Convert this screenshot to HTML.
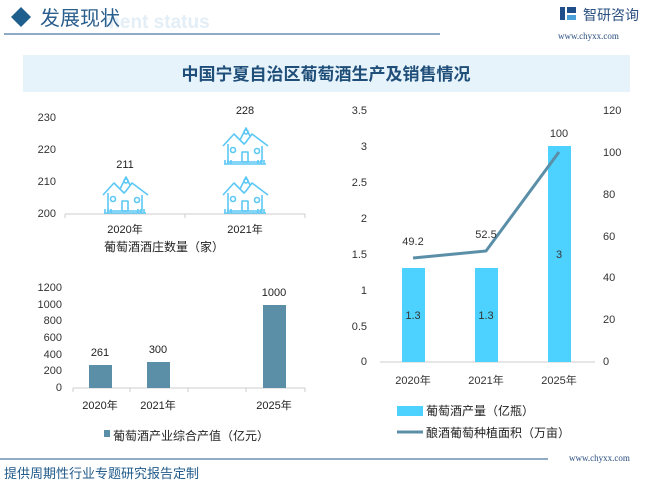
<!DOCTYPE html>
<html><head><meta charset="utf-8"><style>
body{margin:0;background:#fff;}
svg{display:block;font-family:"Liberation Sans","Noto Sans CJK SC",sans-serif;}
</style></head><body>
<svg width="650" height="485" viewBox="0 0 650 485" xmlns="http://www.w3.org/2000/svg">
<defs>
<g id="h" fill="none" stroke="#5cc8f5" stroke-width="1.6" stroke-linejoin="round">
<path d="M2 40 L44 40"/>
<path d="M3 40 v-4 M6 40 v-4 M9 40 v-4 M36 40 v-4 M39 40 v-4 M42 40 v-4"/>
<path d="M1 22 L12 10 L22 20 L24 18 L30 10 L46 22"/>
<path d="M6 20 V38 H40 V22"/>
<path d="M18 16 L24 4 L28 12"/>
<circle cx="24" cy="8" r="2"/>
<rect x="20" y="28" width="6" height="10"/>
<circle cx="11" cy="26" r="2.5"/><circle cx="35" cy="27" r="2.5"/>
</g>
</defs>
<!-- header -->
<path d="M21 7 L31 17 L21 27 L11 17 Z" fill="#1f5f8e"/>
<text x="103" y="28" font-size="19" font-weight="bold" fill="#e3eef6">ment status</text>
<text x="40" y="25" font-size="20" fill="#2a5f8d">发展现状</text>
<line x1="4" y1="34" x2="440" y2="34" stroke="#1f5a8a" stroke-width="1"/>
<rect x="560" y="7" width="5" height="13" fill="#1f4e8a"/><rect x="567" y="7" width="9" height="6" fill="#1f4e8a"/><rect x="567" y="15" width="9" height="5" fill="#4aa0d8"/>
<text x="583" y="20" font-size="14" fill="#2a4f80">智研咨询</text>
<text x="558" y="39" font-size="9" fill="#2a4f80" font-family="Liberation Serif,serif">www.chyxx.com</text>
<!-- title -->
<rect x="23" y="55" width="607" height="37" fill="#e6f3fb"/>
<text x="326" y="80" font-size="17" font-weight="600" fill="#1f4e79" text-anchor="middle">中国宁夏自治区葡萄酒生产及销售情况</text>
<!-- chart 1 -->
<g font-size="11" fill="#333">
<text x="56" y="121" text-anchor="end">230</text>
<text x="56" y="153" text-anchor="end">220</text>
<text x="56" y="185" text-anchor="end">210</text>
<text x="56" y="217" text-anchor="end">200</text>
</g>
<line x1="65" y1="214" x2="305" y2="214" stroke="#ccc"/>
<line x1="185" y1="214" x2="185" y2="218" stroke="#ccc"/><line x1="305" y1="214" x2="305" y2="218" stroke="#ccc"/><line x1="65" y1="214" x2="65" y2="218" stroke="#ccc"/>
<use href="#h" x="102" y="173"/>
<use href="#h" x="222" y="173"/>
<use href="#h" x="222" y="124"/>
<g font-size="11" fill="#222" text-anchor="middle">
<text x="125" y="168">211</text><text x="245" y="114">228</text>
<text x="125" y="233">2020年</text><text x="245" y="233">2021年</text>
</g>
<text x="104" y="251" font-size="12" fill="#222">葡萄酒酒庄数量（家）</text>
<!-- chart 2 -->
<g font-size="11" fill="#333" text-anchor="end">
<text x="62" y="291">1200</text><text x="62" y="308">1000</text><text x="62" y="324">800</text><text x="62" y="341">600</text><text x="62" y="358">400</text><text x="62" y="374">200</text><text x="62" y="391">0</text>
</g>
<line x1="73" y1="388" x2="305" y2="388" stroke="#ccc"/>
<g stroke="#ccc"><line x1="73" y1="388" x2="73" y2="392"/><line x1="130" y1="388" x2="130" y2="392"/><line x1="188" y1="388" x2="188" y2="392"/><line x1="246" y1="388" x2="246" y2="392"/><line x1="305" y1="388" x2="305" y2="392"/></g>
<g fill="#5b8fa8"><rect x="89" y="365" width="23" height="23"/><rect x="147" y="362" width="23" height="26"/><rect x="263" y="305" width="23" height="83"/></g>
<g font-size="11" fill="#222" text-anchor="middle">
<text x="100" y="356">261</text><text x="158" y="353">300</text><text x="274" y="296">1000</text>
<text x="100" y="409">2020年</text><text x="158" y="409">2021年</text><text x="274" y="409">2025年</text>
</g>
<rect x="104" y="430" width="6" height="7" fill="#5b8fa8"/>
<text x="113" y="440" font-size="12" fill="#222">葡萄酒产业综合产值（亿元）</text>
<!-- chart 3 -->
<g font-size="11" fill="#333" text-anchor="end">
<text x="367" y="114">3.5</text><text x="367" y="150">3</text><text x="367" y="186">2.5</text><text x="367" y="222">2</text><text x="367" y="258">1.5</text><text x="367" y="294">1</text><text x="367" y="330">0.5</text><text x="367" y="365">0</text>
</g>
<g font-size="11" fill="#333">
<text x="603" y="114">120</text><text x="603" y="156">100</text><text x="603" y="198">80</text><text x="603" y="240">60</text><text x="603" y="281">40</text><text x="603" y="323">20</text><text x="603" y="365">0</text>
</g>
<line x1="380" y1="362" x2="595" y2="362" stroke="#ccc"/>
<g fill="#4dd2ff"><rect x="402" y="268" width="23" height="94"/><rect x="475" y="268" width="23" height="94"/><rect x="548" y="146" width="23" height="216"/></g>
<polyline points="413,258 486,251 559,152" fill="none" stroke="#5b8fa8" stroke-width="3"/>
<g font-size="11" fill="#333" text-anchor="middle">
<text x="413" y="245">49.2</text><text x="486" y="238">52.5</text><text x="559" y="137">100</text>
<text x="413" y="319">1.3</text><text x="486" y="319">1.3</text><text x="559" y="258">3</text>
<text x="413" y="384">2020年</text><text x="486" y="384">2021年</text><text x="559" y="384">2025年</text>
</g>
<rect x="397" y="406" width="26" height="10" fill="#4dd2ff"/>
<text x="426" y="415" font-size="12" fill="#222">葡萄酒产量（亿瓶）</text>
<line x1="397" y1="432" x2="423" y2="432" stroke="#5b8fa8" stroke-width="3"/>
<text x="426" y="437" font-size="12" fill="#222">酿酒葡萄种植面积（万亩）</text>
<!-- footer -->
<line x1="0" y1="459" x2="548" y2="459" stroke="#1f5a8a" stroke-width="1"/>
<text x="569" y="461" font-size="9" fill="#2a4f80" font-family="Liberation Serif,serif">www.chyxx.com</text>
<text x="4" y="478" font-size="13" fill="#1f5a8a">提供周期性行业专题研究报告定制</text>
</svg>
</body></html>
